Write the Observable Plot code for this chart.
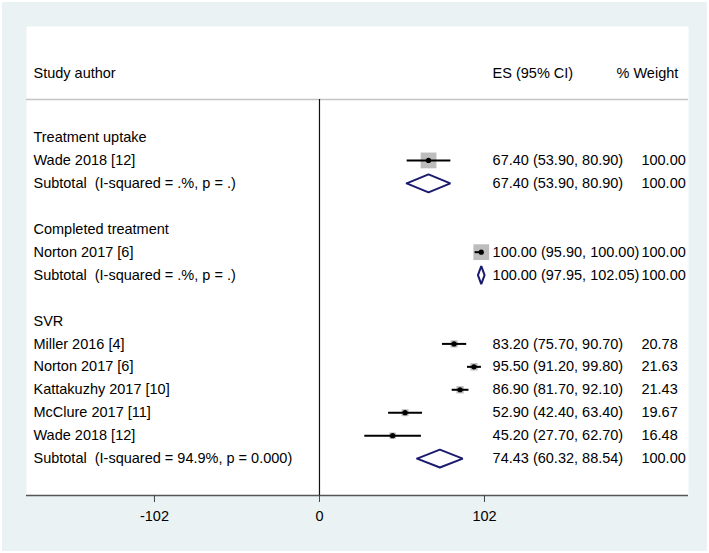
<!DOCTYPE html>
<html><head><meta charset="utf-8">
<script src="https://cdn.jsdelivr.net/npm/d3@7"></script>
<script src="https://cdn.jsdelivr.net/npm/@observablehq/plot@0.6"></script>
<style>
html,body{margin:0;padding:0;background:#fff;overflow:hidden;}
#chart svg{display:block;}
#chart svg text{white-space:pre;}
</style></head><body><div id="chart"></div>
<script>
// ---- data ----
const groupNames = ["Treatment uptake", "Completed treatment", "SVR"];
const studyGroup = ["Treatment uptake", "Completed treatment", "SVR", "SVR", "SVR", "SVR", "SVR"];
const studyLabel = ["Wade 2018 [12]", "Norton 2017 [6]", "Miller 2016 [4]", "Norton 2017 [6]", "Kattakuzhy 2017 [10]", "McClure 2017 [11]", "Wade 2018 [12]"];
const studyES = [67.40, 100.00, 83.20, 95.50, 86.90, 52.90, 45.20];
const studyLo = [53.90, 95.90, 75.70, 91.20, 81.70, 42.40, 27.70];
const studyHi = [80.90, 100.00, 90.70, 99.80, 92.10, 63.40, 62.70];
const studyWeight = [100.00, 100.00, 20.78, 21.63, 21.43, 19.67, 16.48];
const subtotalLabel = ["Subtotal  (I-squared = .%, p = .)", "Subtotal  (I-squared = .%, p = .)", "Subtotal  (I-squared = 94.9%, p = 0.000)"];
const subtotalES = [67.40, 100.00, 74.43];
const subtotalLo = [53.90, 97.95, 60.32];
const subtotalHi = [80.90, 102.05, 88.54];
const subtotalWeight = [100.00, 100.00, 100.00];
const xTicks = [-102, 0, 102];
const headerLabels = ["Study author", "ES (95% CI)", "% Weight"];

// ---- layout constants ----
const colLabel = -176.8, colES = 107, colW = 199, colWHead = 183.6;
const yTop = -4.84, yBottom = 15.61, yHeader = -2.79, yHeaderLine = -1.655;
const diamondHalf = 0.39;

// ---- build rows ----
const rows = [];
let r = 0;
groupNames.forEach((g, gi) => {
  rows.push({row: r++, label: g, kind: "group"});
  studyGroup.forEach((sg, i) => {
    if (sg === g) rows.push({row: r++, label: studyLabel[i], kind: "study", es: studyES[i], lo: studyLo[i], hi: studyHi[i], w: studyWeight[i]});
  });
  rows.push({row: r++, label: subtotalLabel[gi], kind: "subtotal", es: subtotalES[gi], lo: subtotalLo[gi], hi: subtotalHi[gi], w: subtotalWeight[gi]});
  r++; // blank row
});
const studies = rows.filter(d => d.kind === "study");
const subtotals = rows.filter(d => d.kind === "subtotal");
const withES = rows.filter(d => d.es !== undefined);
const diamonds = subtotals.flatMap(d => [
  {x: d.lo, y: d.row, z: d.row},
  {x: d.es, y: d.row - diamondHalf, z: d.row},
  {x: d.hi, y: d.row, z: d.row},
  {x: d.es, y: d.row + diamondHalf, z: d.row},
  {x: d.lo, y: d.row, z: d.row}
]);
const headers = [
  {x: colLabel, text: headerLabels[0]},
  {x: colES, text: headerLabels[1]},
  {x: colWHead, text: headerLabels[2]}
];
const f2 = v => v.toFixed(2);

const chart = Plot.plot({
  width: 709, height: 553,
  marginLeft: 26, marginRight: 21, marginTop: 26, marginBottom: 58,
  style: {background: "#eaf2f3", fontSize: "14.5px", fontFamily: "'Liberation Sans', Arial, sans-serif", color: "#000", overflow: "visible"},
  x: {domain: [-181.1, 228.1], axis: null},
  y: {domain: [yTop, yBottom], reverse: true, axis: null},
  r: {type: "sqrt", domain: [0, 100], range: [0, 8.9]},
  marks: [
    Plot.frame({fill: "white", stroke: null}),
    Plot.ruleY([yHeaderLine], {stroke: "#c4c4c4", strokeWidth: 1.5}),
    Plot.ruleY([yBottom], {stroke: "#555", strokeWidth: 1.5}),
    Plot.ruleX([0], {y1: yHeaderLine, y2: yBottom, stroke: "#111", strokeWidth: 1.2}),
    Plot.axisX({ticks: xTicks, tickSize: 7, tickPadding: 8, tickFormat: d => String(d), stroke: "#444", fill: "#000", fontSize: "14.5px"}),
    Plot.dot(studies, {x: "es", y: "row", r: "w", symbol: "square", fill: "#bdbdbd"}),
    Plot.link(studies, {x1: "lo", x2: "hi", y1: "row", y2: "row", stroke: "#000", strokeWidth: 2}),
    Plot.dot(studies, {x: "es", y: "row", r: 2.6, fill: "#000"}),
    Plot.line(diamonds, {x: "x", y: "y", z: "z", stroke: "#1a1a6e", strokeWidth: 2, strokeLinejoin: "miter"}),
    Plot.text(headers, {x: "x", y: () => yHeader, text: "text", textAnchor: "start", fill: "#000"}),
    Plot.text(rows, {x: () => colLabel, y: "row", text: "label", textAnchor: "start", fill: "#000"}),
    Plot.text(withES, {x: () => colES, y: "row", text: d => `${f2(d.es)} (${f2(d.lo)}, ${f2(d.hi)})`, textAnchor: "start", fill: "#000"}),
    Plot.text(withES, {x: () => colW, y: "row", text: d => f2(d.w), textAnchor: "start", fill: "#000"})
  ]
});
chart.style.boxShadow = "inset 0 0 0 2px #ffffff";
document.getElementById("chart").appendChild(chart);
</script></body></html>
